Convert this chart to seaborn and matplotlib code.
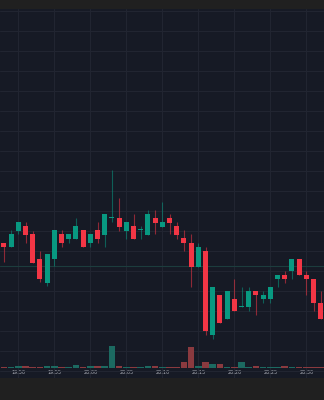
import matplotlib
matplotlib.use("Agg")
import matplotlib.pyplot as plt
import seaborn as sns
import numpy as np
import pandas as pd

# ---- data ----
opens  = [37.0, 36.0, 40.0, 41.1, 39.1, 33.0, 26.9, 33.0, 39.1, 38.0,
          38.0, 40.1, 37.0, 40.1, 39.0, 43.1, 43.1, 40.0, 41.1, 40.1,
          39.0, 43.1, 41.0, 43.1, 41.1, 38.1, 37.0, 31.0, 35.0, 13.85,
          23.9, 17.85, 22.9, 20.85, 20.85, 24.9, 22.9, 22.9, 27.9, 28.9,
          30.0, 33.0, 28.9, 27.9, 21.9]
highs  = [37.0, 40.1, 42.1, 42.1, 40.0, 35.0, 34.1, 40.1, 40.1, 39.1,
          43.1, 40.1, 39.1, 42.1, 44.1, 55.2, 48.1, 42.1, 44.1, 41.1,
          45.1, 45.1, 47.2, 44.1, 42.1, 40.1, 39.1, 37.0, 36.0, 25.9,
          23.9, 24.9, 27.9, 25.9, 25.9, 24.9, 24.9, 25.9, 28.9, 29.9,
          33.0, 33.0, 29.9, 27.9, 24.9]
lows   = [32.2, 36.0, 39.2, 37.0, 32.0, 27.1, 26.1, 31.2, 36.0, 37.0,
          38.0, 36.0, 36.0, 37.0, 36.0, 42.1, 40.0, 38.0, 38.0, 38.0,
          39.0, 39.1, 41.0, 39.1, 38.0, 35.0, 26.0, 31.0, 14.0, 13.0,
          16.85, 17.85, 19.85, 20.85, 20.0, 19.0, 21.9, 21.9, 25.9, 26.9,
          27.9, 28.9, 23.9, 19.85, 17.85]
closes = [36.0, 39.1, 42.1, 39.0, 32.0, 27.9, 34.1, 40.1, 37.0, 39.1,
          41.1, 36.0, 39.1, 38.0, 44.1, 43.15, 41.0, 42.1, 38.0, 40.1,
          44.1, 42.0, 42.1, 42.0, 39.0, 37.0, 31.0, 36.0, 15.0, 25.9,
          16.85, 24.9, 19.85, 20.85, 24.9, 23.9, 23.9, 25.9, 28.9, 27.9,
          33.0, 28.9, 27.9, 21.9, 17.85]
volumes = [20, 20, 40, 40, 20, 10, 60, 50, 20, 20,
           80, 20, 60, 40, 60, 650, 40, 20, 20, 20,
           40, 50, 20, 30, 30, 160, 620, 60, 160, 100,
           100, 30, 20, 170, 20, 40, 10, 20, 20, 50,
           20, 10, 20, 20, 30]
tick_idx = [2, 7, 12, 17, 22, 27, 32, 37, 42]
tick_labels = ["19:50", "19:55", "20:00", "20:05", "20:10",
               "20:15", "20:20", "20:25", "20:30"]
ref_price = 31.2

# ---- style ----
UP = "#089981"
DOWN = "#f23645"
UP_VOL = "#1c6a61"
DOWN_VOL = "#8a3a3f"
BG = "#161a25"
GRID = "#212531"

sns.set_theme(style="dark")
plt.rcParams['font.family'] = ['DejaVu Sans']

df = pd.DataFrame({"i": np.arange(len(opens)), "open": opens, "high": highs,
                   "low": lows, "close": closes, "volume": volumes})
df["dir"] = np.where(df["close"] >= df["open"], "up", "down")

fig = plt.figure(figsize=(3.24, 4.0), dpi=100, facecolor="#202020")

ax = fig.add_axes([0, 22 / 400, 1, 369 / 400])
ax.set_facecolor(BG)
for s in ax.spines.values():
    s.set_visible(False)

ax.set_xlim(-3.9 / 7.2, (324 - 3.9) / 7.2)
ax.set_ylim(3.175, 95.425)

# grid
ax.set_yticks(np.arange(5, 96, 5))
ax.set_yticklabels([])
ax.set_xticks(tick_idx)
ax.set_xticklabels(tick_labels)
ax.grid(True, color=GRID, linewidth=0.8)
ax.tick_params(axis="y", length=0)
ax.tick_params(axis="x", length=0, pad=-6.0, labelsize=3.5, labelcolor="#b2b5be")

ax.axhline(ref_price, color="#1c3d3d", linewidth=0.8, zorder=1)

# candles
colors = np.where(df["dir"] == "up", UP, DOWN)
ax.vlines(df["i"], df["low"], df["high"], colors=colors, linewidth=0.8, alpha=0.55, zorder=2)
body_bottom = np.minimum(df["open"], df["close"])
body_h = np.maximum(np.abs(df["close"] - df["open"]), 0.28)
ax.bar(df["i"], body_h, bottom=body_bottom, width=0.72, color=colors, linewidth=0, zorder=3)

# volume pane
vax = fig.add_axes([0, (400 - 367.7) / 400, 1, 0.25])
vax.patch.set_alpha(0)
sns.barplot(data=df, x="i", y="volume", hue="dir", palette={"up": UP_VOL, "down": DOWN_VOL},
            native_scale=True, dodge=False, width=0.92, legend=False, ax=vax,
            saturation=1, linewidth=0)
vax.set_xlim(ax.get_xlim())
vax.set_ylim(0, 3000)
vax.axis("off")

fig.savefig("out.png", dpi=100, facecolor=fig.get_facecolor())
